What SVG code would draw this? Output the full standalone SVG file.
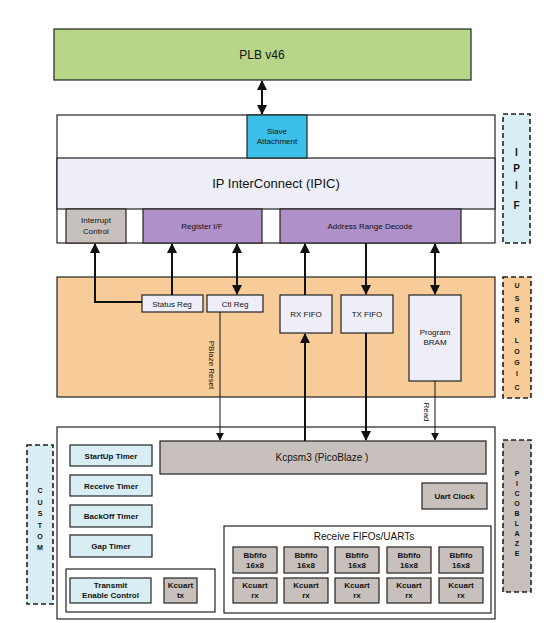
<svg xmlns="http://www.w3.org/2000/svg" width="550" height="623" viewBox="0 0 550 623">
<style>
text{font-family:"Liberation Sans",Arial,sans-serif;fill:#111;text-anchor:middle}
.b{stroke:#222;stroke-width:1.2}
.s{font-size:8px}
.sb{font-size:8px;font-weight:bold}
.lab{stroke:#222;stroke-width:1.6;stroke-dasharray:5,3}
.w{stroke:#111;stroke-width:2;fill:none}
.t{stroke:#111;stroke-width:1;fill:none}
</style>
<defs>
<marker id="ah" viewBox="0 0 10 10" refX="9" refY="5" markerWidth="5" markerHeight="5" orient="auto-start-reverse" markerUnits="strokeWidth"><path d="M0,0L10,5L0,10z" fill="#111"/></marker>
<marker id="at" viewBox="0 0 10 10" refX="9" refY="5" markerWidth="8" markerHeight="8" orient="auto-start-reverse" markerUnits="strokeWidth"><path d="M0,0L10,5L0,10z" fill="#111"/></marker>
</defs>
<rect width="550" height="623" fill="#fff"/>

<g id="plb"><rect x="54" y="29" width="417" height="51" fill="#b8d68a" class="b"/><text x="262" y="59" font-size="12">PLB v46</text></g>

<g id="ipif">
<rect x="57" y="115" width="438" height="128" fill="#fff" class="b"/>
<rect x="57" y="158" width="438" height="51" fill="#eeeef8" class="b"/>
<text x="276" y="188" font-size="13">IP InterConnect (IPIC)</text>
</g>
<g id="slave"><rect x="247" y="115" width="60" height="43" fill="#3bbfe8" class="b"/><text x="277" y="134" class="s">Slave</text><text x="277" y="144" class="s">Attachment</text></g>
<g id="intr"><rect x="66" y="209" width="60" height="34" fill="#c8c0bc" class="b"/><text x="96" y="223" class="s">Interrupt</text><text x="96" y="234" class="s">Control</text></g>
<g id="regif"><rect x="143" y="209" width="119" height="34" fill="#b090c8" class="b"/><text x="202" y="229" class="s">Register I/F</text></g>
<g id="addr"><rect x="280" y="209" width="181" height="34" fill="#b090c8" class="b"/><text x="370" y="229" class="s">Address Range Decode</text></g>
<g id="ipif-label"><rect x="503" y="114" width="27" height="129" fill="#d8eef4" class="lab"/>
<g font-size="10" font-weight="bold"><text x="516.5" y="156">I</text><text x="516.5" y="172">P</text><text x="516.5" y="189">I</text><text x="516.5" y="209">F</text></g></g>

<g id="userlogic"><rect x="57" y="277" width="438" height="120" fill="#f8cc98" class="b"/></g>
<g id="statusreg"><rect x="142" y="295" width="61" height="17" fill="#eeeef8" class="b"/><text x="172" y="306.5" class="s">Status Reg</text></g>
<g id="ctlreg"><rect x="207" y="295" width="56" height="17" fill="#eeeef8" class="b"/><text x="235" y="306.5" class="s">Ctl Reg</text></g>
<g id="rxfifo"><rect x="280" y="295" width="52" height="38" fill="#eeeef8" class="b"/><text x="306" y="317" class="s">RX FIFO</text></g>
<g id="txfifo"><rect x="341" y="295" width="52" height="38" fill="#eeeef8" class="b"/><text x="367" y="317" class="s">TX FIFO</text></g>
<g id="bram"><rect x="409" y="295" width="52" height="86" fill="#eeeef8" class="b"/><text x="435" y="335" class="s">Program</text><text x="435" y="345" class="s">BRAM</text></g>
<g id="userlogic-label"><rect x="503" y="277" width="28" height="121" fill="#f8cc98" class="lab"/>
<g font-size="7" font-weight="bold"><text x="517" y="288">U</text><text x="517" y="301">S</text><text x="517" y="312">E</text><text x="517" y="323">R</text><text x="517" y="343">L</text><text x="517" y="354">O</text><text x="517" y="365">G</text><text x="517" y="376">I</text><text x="517" y="390">C</text></g></g>

<g id="picoblaze"><rect x="57" y="427" width="438" height="192" fill="#fff" class="b"/></g>
<g id="kcpsm3"><rect x="160" y="441" width="326" height="33" fill="#c8c0bc" class="b"/><text x="322" y="461" font-size="10">Kcpsm3 (PicoBlaze )</text></g>
<g id="uartclock"><rect x="422" y="483" width="65" height="26" fill="#c8c0bc" class="b"/><text x="454.5" y="499" class="sb">Uart Clock</text></g>
<g id="startup"><rect x="70" y="445" width="82" height="21" fill="#d8eef4" class="b"/><text x="111" y="458.5" class="sb">StartUp Timer</text></g>
<g id="receivetimer"><rect x="70" y="475" width="82" height="21" fill="#d8eef4" class="b"/><text x="111" y="488.5" class="sb">Receive Timer</text></g>
<g id="backoff"><rect x="70" y="505" width="82" height="22" fill="#d8eef4" class="b"/><text x="111" y="519" class="sb">BackOff Timer</text></g>
<g id="gap"><rect x="70" y="535" width="82" height="22" fill="#d8eef4" class="b"/><text x="111" y="549" class="sb">Gap Timer</text></g>
<g id="txgroup"><rect x="66" y="569" width="149" height="43" fill="#fff" class="b"/></g>
<g id="txen"><rect x="70" y="578" width="81" height="25" fill="#d8eef4" class="b"/><text x="110.5" y="588" class="sb">Transmit</text><text x="110.5" y="598" class="sb">Enable Control</text></g>
<g id="kcuarttx"><rect x="164" y="578" width="33" height="25" fill="#c8c0bc" class="b"/><text x="180.5" y="588" class="sb">Kcuart</text><text x="180.5" y="598" class="sb">tx</text></g>
<g id="rxgroup"><rect x="224" y="526" width="267" height="87" fill="#fff" class="b"/><text x="364" y="540" font-size="10">Receive FIFOs/UARTs</text></g>
<g id="rx1"><rect x="233" y="547" width="44" height="26" fill="#c8c0bc" class="b"/><text x="255" y="557.5" class="sb">Bbfifo</text><text x="255" y="567.5" class="sb">16x8</text><rect x="233" y="578" width="44" height="25" fill="#c8c0bc" class="b"/><text x="255" y="588" class="sb">Kcuart</text><text x="255" y="598" class="sb">rx</text></g>
<g id="rx2"><rect x="284" y="547" width="44" height="26" fill="#c8c0bc" class="b"/><text x="306" y="557.5" class="sb">Bbfifo</text><text x="306" y="567.5" class="sb">16x8</text><rect x="284" y="578" width="44" height="25" fill="#c8c0bc" class="b"/><text x="306" y="588" class="sb">Kcuart</text><text x="306" y="598" class="sb">rx</text></g>
<g id="rx3"><rect x="335" y="547" width="44" height="26" fill="#c8c0bc" class="b"/><text x="357" y="557.5" class="sb">Bbfifo</text><text x="357" y="567.5" class="sb">16x8</text><rect x="335" y="578" width="44" height="25" fill="#c8c0bc" class="b"/><text x="357" y="588" class="sb">Kcuart</text><text x="357" y="598" class="sb">rx</text></g>
<g id="rx4"><rect x="387" y="547" width="44" height="26" fill="#c8c0bc" class="b"/><text x="409" y="557.5" class="sb">Bbfifo</text><text x="409" y="567.5" class="sb">16x8</text><rect x="387" y="578" width="44" height="25" fill="#c8c0bc" class="b"/><text x="409" y="588" class="sb">Kcuart</text><text x="409" y="598" class="sb">rx</text></g>
<g id="rx5"><rect x="439" y="547" width="44" height="26" fill="#c8c0bc" class="b"/><text x="461" y="557.5" class="sb">Bbfifo</text><text x="461" y="567.5" class="sb">16x8</text><rect x="439" y="578" width="44" height="25" fill="#c8c0bc" class="b"/><text x="461" y="588" class="sb">Kcuart</text><text x="461" y="598" class="sb">rx</text></g>
<g id="custom-label"><rect x="27" y="445" width="26" height="159" fill="#d8eef4" class="lab"/>
<g font-size="7" font-weight="bold"><text x="40" y="493">C</text><text x="40" y="504.5">U</text><text x="40" y="516">S</text><text x="40" y="527.5">T</text><text x="40" y="539">O</text><text x="40" y="550">M</text></g></g>
<g id="picoblaze-label"><rect x="503" y="440" width="28" height="152" fill="#c8c0bc" class="lab"/>
<g font-size="7" font-weight="bold"><text x="517" y="476">P</text><text x="517" y="486">I</text><text x="517" y="496">C</text><text x="517" y="506">O</text><text x="517" y="516">B</text><text x="517" y="526">L</text><text x="517" y="536">A</text><text x="517" y="546">Z</text><text x="517" y="556">E</text></g></g>

<g id="connectors">
<line x1="262" y1="81" x2="262" y2="114" class="w" marker-start="url(#ah)" marker-end="url(#ah)"/>
<polyline points="142,302 95,302 95,244" class="w" marker-end="url(#ah)"/>
<line x1="172" y1="295" x2="172" y2="244" class="w" marker-end="url(#ah)"/>
<line x1="237" y1="244" x2="237" y2="294" class="w" marker-start="url(#ah)" marker-end="url(#ah)"/>
<line x1="305" y1="295" x2="305" y2="244" class="w" marker-end="url(#ah)"/>
<line x1="366" y1="243" x2="366" y2="294" class="w" marker-end="url(#ah)"/>
<line x1="435" y1="244" x2="435" y2="294" class="w" marker-start="url(#ah)" marker-end="url(#ah)"/>
<line x1="305" y1="441" x2="305" y2="334" class="w" marker-end="url(#ah)"/>
<line x1="366" y1="333" x2="366" y2="440" class="w" marker-end="url(#ah)"/>
<line x1="220" y1="312" x2="220" y2="440" class="t" marker-end="url(#at)"/>
<line x1="435" y1="381" x2="435" y2="440" class="t" marker-end="url(#at)"/>
<text transform="translate(209,365) rotate(90)" class="s">PBlaze Reset</text>
<text transform="translate(424,412) rotate(90)" class="s">Read</text>
</g>
</svg>
